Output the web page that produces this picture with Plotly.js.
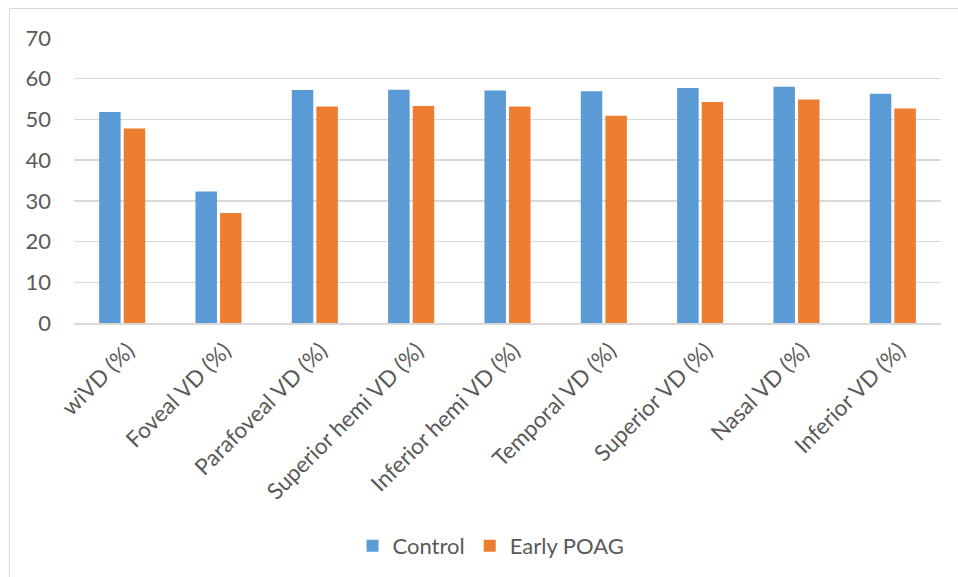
<!DOCTYPE html>
<html>
<head>
<meta charset="utf-8">
<script src="https://cdn.plot.ly/plotly-3.0.1.min.js"></script>
<style>
html,body{margin:0;padding:0;background:#fff;}
#wrap{position:relative;width:958px;height:577px;}
#chart{position:absolute;left:0;top:0;width:958px;height:577px;}
#frame{position:absolute;left:9px;top:8px;right:0;bottom:0;border-left:1.5px solid #d9d9d9;border-top:1.5px solid #d9d9d9;pointer-events:none;}
</style>
</head>
<body>
<div id="wrap"><div id="chart"></div><div id="frame"></div></div>
<script>
const categories = ["wiVD (%)", "Foveal VD (%)", "Parafoveal VD (%)", "Superior hemi VD (%)", "Inferior hemi VD (%)", "Temporal VD (%)", "Superior VD (%)", "Nasal VD (%)", "Inferior VD (%)"];
const controlValues = [51.8, 32.3, 57.2, 57.3, 57.1, 56.9, 57.7, 58.0, 56.3];
const earlyPoagValues = [47.8, 27.0, 53.2, 53.3, 53.2, 50.9, 54.3, 54.9, 52.7];
const yTicks = [0, 10, 20, 30, 40, 50, 60, 70];

const fontFam = "Lato, 'Open Sans', sans-serif";
const txt = "#595959";

const traces = [
  {type: "bar", name: "Control", x: categories, y: controlValues,
   marker: {color: "#5B9BD5", line: {width: 0}}, hoverinfo: "x+y"},
  {type: "bar", name: "Early POAG", x: categories, y: earlyPoagValues,
   marker: {color: "#ED7D31", line: {width: 0}}, hoverinfo: "x+y"}
];

const layout = {
  width: 958, height: 577,
  margin: {l: 74, r: 17, t: 38, b: 254, pad: 0},
  paper_bgcolor: "#fff", plot_bgcolor: "#fff",
  barmode: "group", bargap: 0.49, bargroupgap: 0.125,
  font: {family: fontFam, color: txt, size: 21},
  xaxis: {
    type: "category", tickangle: -45, ticks: "", showgrid: false,
    showline: true, linecolor: "#d9d9d9", linewidth: 1.5,
    ticklabelstandoff: 4, ticklabelshift: 6,
    tickfont: {family: fontFam, size: 22.5, color: txt}, automargin: false
  },
  yaxis: {
    range: [0, 70], tickvals: yTicks, ticktext: yTicks.map(String),
    showgrid: true, gridcolor: "#d9d9d9", gridwidth: 1.5,
    zeroline: false, showline: false, ticks: "",
    ticklabelstandoff: 22,
    tickfont: {family: fontFam, size: 22, color: txt}, automargin: false
  },
  showlegend: true,
  legend: {orientation: "h", x: 0.481, xanchor: "center", yref: "container", y: 0.054, yanchor: "middle",
    font: {family: fontFam, size: 22, color: txt}, itemwidth: 30, traceorder: "normal"}
};

Plotly.newPlot("chart", traces, layout, {displayModeBar: false, staticPlot: true});
</script>
</body>
</html>
